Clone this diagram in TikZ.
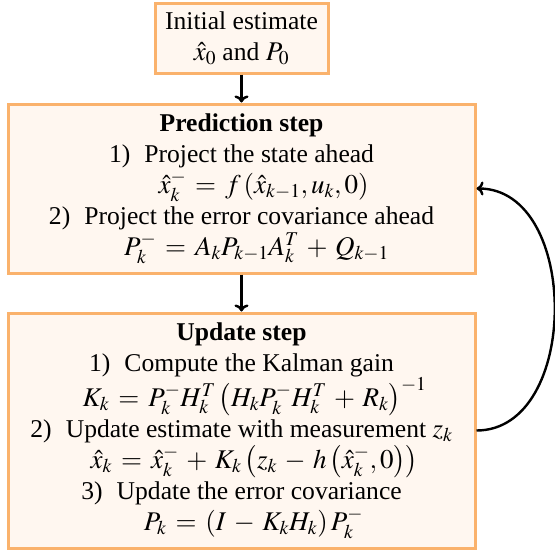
\documentclass[tikz,border=0pt]{standalone}
\usepackage{mathptmx}
\usepackage{fontspec}
\setmainfont{Liberation Serif}
\usetikzlibrary{arrows.meta}
\DeclareMathSizes{25.6}{27}{19.5}{14.5}
\thickmuskip=6mu plus 2mu
\medmuskip=5mu plus 2mu
\definecolor{boxline}{RGB}{250,178,108}
\definecolor{boxfill}{RGB}{255,247,240}
\tikzset{
  kbox/.style={draw=boxline, fill=boxfill, line width=3pt, align=center,
    font=\fontsize{25.6}{31}\selectfont, inner sep=0pt},
  arr/.style={line width=2.4pt, -{To[length=7pt,width=14pt]}}
}
\begin{document}
\begin{tikzpicture}[x=1pt,y=-1pt]
\useasboundingbox (0,0) rectangle (555,552);
\node[kbox, minimum width=173pt, minimum height=70pt] (init) at (241.5,38)
  {Initial estimate\\ $\hat{x}_0$ and $P_0$};
\node[kbox, minimum width=467pt, minimum height=169pt] (pred) at (241.5,188.5)
  {\textbf{Prediction step}\\
   1)\hspace{0.55em}Project the state ahead\\
   \hspace*{44pt}$\hat{x}_k^- = f\left(\hat{x}_{k-1}, u_k, 0\right)$\\
   2)\hspace{0.55em}Project the error covariance ahead\\
   \hspace*{30pt}$P_k^- = A_k P_{k-1} A_k^T + Q_{k-1}$};
\node[kbox, minimum width=467pt, minimum height=235pt] (upd) at (241.5,430.5)
  {\textbf{Update step}\\
   1)\hspace{0.55em}Compute the Kalman gain\\
   \hspace*{26pt}$K_k = P_k^- H_k^T \left(H_k P_k^- H_k^T + R_k\right)^{-1}$\\
   2)\hspace{0.55em}Update estimate with measurement $z_k$\\
   \hspace*{26pt}$\hat{x}_k = \hat{x}_k^- + K_k \left(z_k - h\left(\hat{x}_k^-, 0\right)\right)$\\
   3)\hspace{0.55em}Update the error covariance\\
   \hspace*{24pt}$P_k = \left(I - K_k H_k\right) P_k^-$};
\draw[arr] (init.south) -- (pred.north);
\draw[arr] (pred.south) -- (upd.north);
\draw[arr] (upd.east) .. controls +(104,0) and +(104,0) .. (pred.east);
\end{tikzpicture}
\end{document}
